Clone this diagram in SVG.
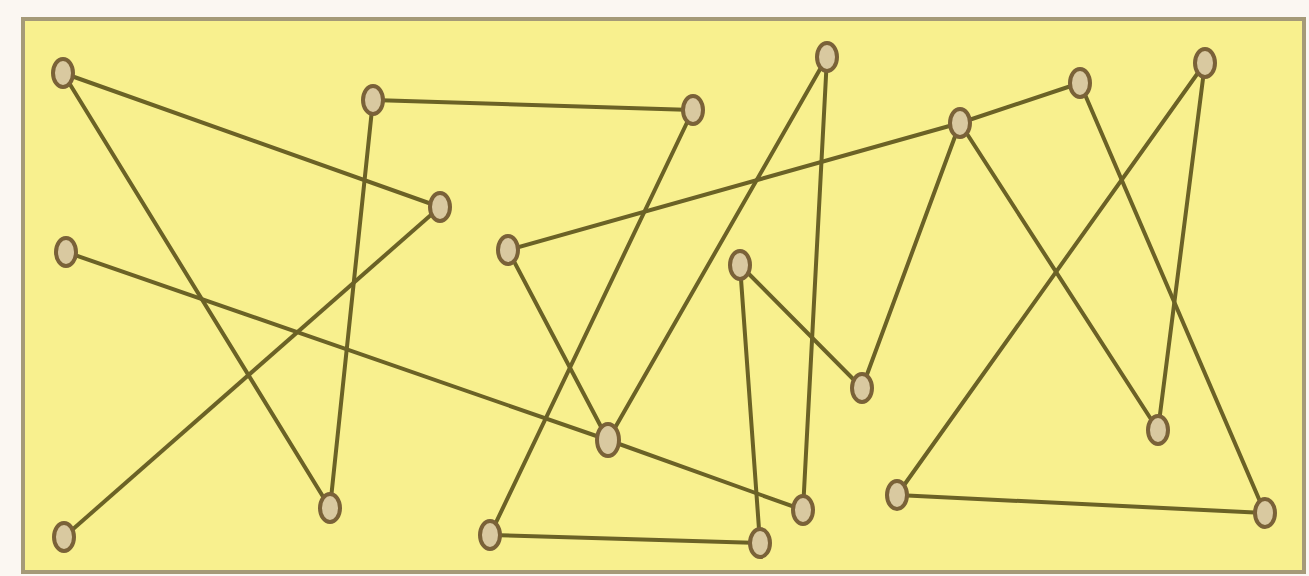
<svg xmlns="http://www.w3.org/2000/svg" width="1309" height="576" viewBox="0 0 1309 576">
<style>
.e{stroke:#6b6226;stroke-width:4;fill:none;stroke-linecap:round}
.n{fill:#d9c9a0;stroke:#7a6238;stroke-width:4}
</style>
<rect x="0" y="0" width="1309" height="576" fill="#fbf7f2"/>
<rect x="23" y="19" width="1281" height="553" fill="#f8f08e" stroke="#a59a78" stroke-width="4"/>
<g id="connectors">
<line class="e" x1="63" y1="73" x2="440" y2="207"/>
<line class="e" x1="63" y1="73" x2="330" y2="508"/>
<line class="e" x1="373" y1="100" x2="693" y2="110"/>
<line class="e" x1="373" y1="100" x2="330" y2="508"/>
<line class="e" x1="440" y1="207" x2="64" y2="537"/>
<line class="e" x1="66" y1="252" x2="608" y2="440"/>
<line class="e" x1="608" y1="440" x2="803" y2="510"/>
<line class="e" x1="693" y1="110" x2="490" y2="535"/>
<line class="e" x1="827" y1="57" x2="608" y2="440"/>
<line class="e" x1="827" y1="57" x2="803" y2="510"/>
<line class="e" x1="508" y1="250" x2="960" y2="123"/>
<line class="e" x1="960" y1="123" x2="1080" y2="83"/>
<line class="e" x1="508" y1="250" x2="608" y2="440"/>
<line class="e" x1="740" y1="265" x2="862" y2="388"/>
<line class="e" x1="740" y1="265" x2="760" y2="543"/>
<line class="e" x1="490" y1="535" x2="760" y2="543"/>
<line class="e" x1="862" y1="388" x2="960" y2="123"/>
<line class="e" x1="960" y1="123" x2="1158" y2="430"/>
<line class="e" x1="1080" y1="83" x2="1265" y2="513"/>
<line class="e" x1="1205" y1="63" x2="897" y2="495"/>
<line class="e" x1="1205" y1="63" x2="1158" y2="430"/>
<line class="e" x1="897" y1="495" x2="1265" y2="513"/>
</g>
<g id="n1"><ellipse class="n" cx="63" cy="73" rx="10" ry="14"/></g>
<g id="n2"><ellipse class="n" cx="373" cy="100" rx="10" ry="14"/></g>
<g id="n3"><ellipse class="n" cx="693" cy="110" rx="10" ry="14"/></g>
<g id="n4"><ellipse class="n" cx="827" cy="57" rx="10" ry="14"/></g>
<g id="n5"><ellipse class="n" cx="960" cy="123" rx="10" ry="14"/></g>
<g id="n6"><ellipse class="n" cx="1080" cy="83" rx="10" ry="14"/></g>
<g id="n7"><ellipse class="n" cx="1205" cy="63" rx="10" ry="14"/></g>
<g id="n8"><ellipse class="n" cx="440" cy="207" rx="10" ry="14"/></g>
<g id="n9"><ellipse class="n" cx="66" cy="252" rx="10" ry="14"/></g>
<g id="n10"><ellipse class="n" cx="508" cy="250" rx="10" ry="14"/></g>
<g id="n11"><ellipse class="n" cx="740" cy="265" rx="10" ry="14"/></g>
<g id="n12"><ellipse class="n" cx="862" cy="388" rx="10" ry="14"/></g>
<g id="n13"><ellipse class="n" cx="608" cy="440" rx="11" ry="16"/></g>
<g id="n14"><ellipse class="n" cx="1158" cy="430" rx="10" ry="14"/></g>
<g id="n15"><ellipse class="n" cx="64" cy="537" rx="10" ry="14"/></g>
<g id="n16"><ellipse class="n" cx="330" cy="508" rx="10" ry="14"/></g>
<g id="n17"><ellipse class="n" cx="490" cy="535" rx="10" ry="14"/></g>
<g id="n18"><ellipse class="n" cx="760" cy="543" rx="10" ry="14"/></g>
<g id="n19"><ellipse class="n" cx="803" cy="510" rx="10" ry="14"/></g>
<g id="n20"><ellipse class="n" cx="897" cy="495" rx="10" ry="14"/></g>
<g id="n21"><ellipse class="n" cx="1265" cy="513" rx="10" ry="14"/></g>
</svg>
